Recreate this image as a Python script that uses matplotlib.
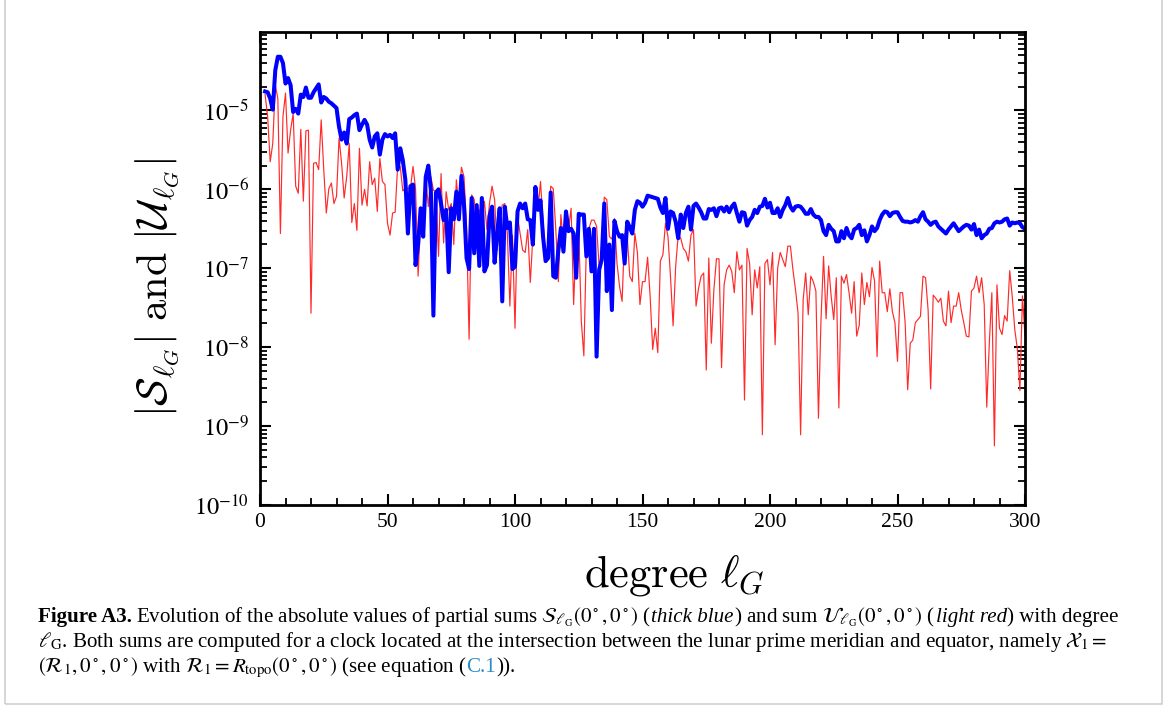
import numpy as np
import matplotlib
matplotlib.use('Agg')
import matplotlib.pyplot as plt
from matplotlib.ticker import LogLocator, NullFormatter, MultipleLocator
from matplotlib.transforms import IdentityTransform

plt.rcParams['font.family'] = ['Liberation Serif', 'DejaVu Serif']
plt.rcParams['mathtext.fontset'] = 'stix'

# values, stored as log10 of the absolute value
# degree l_G runs from 2 to 300, one value per degree
deg_first = 2

S_log = [
    -4.76, -4.77, -4.85, -4.99, -4.49, -4.32, -4.32, -4.40, -4.66, -4.59,
    -4.68, -5.02, -4.98, -5.04, -4.80, -4.83, -4.71, -4.84, -4.84, -4.77,
    -4.72, -4.67, -4.90, -4.83, -4.85, -4.89, -4.91, -4.94, -4.97, -5.21,
    -5.37, -5.28, -5.42, -5.11, -5.09, -5.06, -5.04, -5.25, -5.18, -5.12,
    -5.18, -5.37, -5.47, -5.33, -5.29, -5.56, -5.37, -5.30, -5.33, -5.31,
    -5.35, -5.29, -5.75, -5.48, -5.63, -5.88, -6.56, -5.96, -5.94,
    -6.96, -6.70, -6.24, -6.60, -5.84, -5.70, -6.01, -7.60, -6.04, -6.00,
    -6.18, -6.39, -6.26, -7.05, -6.24, -6.38, -6.03, -6.38, -5.83, -6.20,
    -6.87, -7.01, -6.11, -6.81, -6.20, -6.97, -6.11, -7.04, -6.96, -6.34,
    -6.22, -6.93, -6.56, -6.24, -7.42, -6.22, -6.49, -6.42, -7.01, -6.98,
    -6.28, -6.18, -6.24, -6.18, -6.38, -6.39, -6.70, -5.97, -6.26, -6.14,
    -6.60, -6.91, -6.87, -6.04, -7.10, -7.12, -6.77, -6.49, -6.79, -6.28,
    -6.53, -6.50, -6.56, -7.12, -6.31, -6.32, -6.32, -6.85, -6.50, -7.04,
    -6.50, -8.12, -7.02, -6.89, -6.18, -7.29, -6.70, -7.53, -6.40, -6.53,
    -6.60, -6.58, -6.94, -6.41, -6.48, -6.56, -6.26, -6.15, -6.17, -6.22,
    -6.17, -6.08, -6.09, -6.10, -6.11, -6.12, -6.23, -6.30, -6.11, -6.50,
    -6.28, -6.30, -6.41, -6.62, -6.32, -6.49, -6.30, -6.22, -6.51, -6.21,
    -6.18, -6.23, -6.29, -6.37, -6.37, -6.25, -6.26, -6.24, -6.34, -6.24,
    -6.23, -6.28, -6.22, -6.29, -6.22, -6.18, -6.30, -6.41, -6.29, -6.30,
    -6.46, -6.39, -6.35, -6.26, -6.30, -6.22, -6.21, -6.12, -6.23, -6.17,
    -6.30, -6.30, -6.24, -6.35, -6.26, -6.20, -6.11, -6.22, -6.27, -6.22,
    -6.21, -6.22, -6.26, -6.31, -6.31, -6.25, -6.32, -6.35, -6.35, -6.39,
    -6.53, -6.58, -6.45, -6.50, -6.53, -6.66, -6.66, -6.53, -6.62, -6.49,
    -6.58, -6.62, -6.51, -6.49, -6.45, -6.58, -6.52, -6.66, -6.58, -6.47,
    -6.53, -6.49, -6.39, -6.32, -6.28, -6.29, -6.34, -6.30, -6.29, -6.29,
    -6.35, -6.40, -6.41, -6.41, -6.42, -6.41, -6.39, -6.41, -6.34, -6.29,
    -6.38, -6.41, -6.45, -6.42, -6.41, -6.47, -6.50, -6.53, -6.56, -6.51,
    -6.47, -6.43, -6.48, -6.53, -6.50, -6.47, -6.45, -6.46, -6.51, -6.44,
    -6.58, -6.51, -6.62, -6.58, -6.56, -6.50, -6.49, -6.43, -6.41, -6.42,
    -6.41, -6.38, -6.37, -6.46, -6.42, -6.43, -6.42, -6.43, -6.48, -6.50,
]

U_log = [
    -4.80, -5.08, -5.65, -5.42, -4.68, -4.85, -6.56, -5.08, -4.78, -5.54,
    -5.25, -5.04, -5.96, -6.05, -5.24, -6.15, -5.26, -5.25, -7.57, -5.67,
    -5.66, -5.75, -5.12, -5.75, -6.30, -5.99, -5.92, -6.18, -6.09, -5.35,
    -5.67, -6.11, -5.84, -5.42, -6.42, -6.18, -6.52, -5.48, -6.20, -6.00,
    -6.21, -5.65, -5.94, -5.86, -6.28, -5.61, -5.90, -5.94, -6.43, -6.58,
    -6.30, -6.29, -5.69, -5.71, -6.02, -5.99, -5.99, -5.99, -5.71,
    -5.99, -7.10, -6.34, -6.51, -5.84, -6.22, -5.84, -6.01, -6.03, -6.85,
    -5.80, -6.68, -6.03, -6.26, -6.18, -6.70, -5.88, -6.22, -5.72, -5.84,
    -6.47, -7.90, -6.07, -6.13, -6.51, -6.26, -6.41, -6.15, -6.51, -6.18,
    -5.96, -6.13, -6.77, -6.39, -6.20, -6.18, -6.56, -7.48, -6.58, -7.76,
    -6.34, -6.56, -6.77, -6.80, -6.51, -7.18, -6.60, -6.20, -6.26, -5.90,
    -6.41, -6.89, -6.68, -5.96, -5.99, -6.51, -7.17, -6.32, -6.68, -6.28,
    -6.50, -6.24, -7.46, -6.60, -6.51, -7.67, -8.11, -6.68, -6.50, -6.39,
    -6.39, -6.47, -6.98, -6.91, -6.10, -6.13, -6.60, -6.63, -6.37, -6.94,
    -7.23, -7.42, -6.56, -6.59, -7.10, -7.17, -6.56, -6.80, -7.46, -7.17,
    -7.17, -6.86, -7.36, -8.03, -7.76, -8.07, -6.91, -6.83, -6.43, -6.60,
    -7.12, -7.73, -6.98, -6.58, -6.62, -6.75, -6.79, -6.91, -6.58, -6.51,
    -7.48, -7.25, -7.10, -7.06, -8.29, -6.87, -7.95, -7.27, -6.88, -6.88,
    -8.26, -7.21, -7.02, -6.96, -7.04, -7.31, -6.79, -7.02, -6.96, -8.67,
    -6.75, -6.94, -7.59, -7.02, -7.25, -6.98, -9.11, -6.94, -6.89, -7.21,
    -6.80, -7.97, -7.00, -6.80, -6.89, -6.98, -6.72, -6.72, -7.02, -7.27,
    -7.57, -9.11, -7.40, -7.06, -7.59, -7.10, -7.17, -7.29, -8.90, -7.65,
    -6.85, -7.64, -6.97, -7.36, -7.65, -7.12, -8.77, -7.10, -7.19, -7.08,
    -7.31, -7.57, -7.17, -7.86, -7.72, -7.06, -7.46, -7.18, -7.36, -6.99,
    -7.16, -8.12, -6.91, -7.31, -7.31, -7.55, -7.26, -7.55, -7.69, -8.18,
    -7.31, -7.31, -7.69, -8.54, -7.95, -7.91, -7.69, -7.65, -7.61, -7.10,
    -7.12, -7.53, -8.53, -7.34, -7.38, -7.43, -7.38, -7.67, -7.73, -7.29,
    -7.69, -7.48, -7.48, -7.31, -7.53, -7.69, -7.86, -7.87, -7.29, -7.25,
    -7.10, -7.31, -7.12, -7.46, -8.76, -7.95, -7.31, -9.25, -7.21, -7.76,
    -7.84, -7.60, -7.67, -7.03, -7.36, -7.78, -8.02, -8.55, -7.35, -7.86,
]

x_ticks = [0, 50, 100, 150, 200, 250, 300]
y_ticks = [1e-10, 1e-9, 1e-8, 1e-7, 1e-6, 1e-5]
y_ticklabels = [r'$10^{-10}$', r'$10^{-9}$', r'$10^{-8}$', r'$10^{-7}$',
                r'$10^{-6}$', r'$10^{-5}$']

S_abs = 10.0 ** np.array(S_log)
U_abs = 10.0 ** np.array(U_log)
deg_S = np.arange(deg_first, deg_first + len(S_abs))
deg_U = np.arange(deg_first, deg_first + len(U_abs))

W, H = 1167, 709
fig = plt.figure(figsize=(W / 100, H / 100), dpi=100)
ax = fig.add_axes([260 / W, 1 - 505 / H, 765 / W, 473.5 / H])

ax.plot(deg_U, U_abs, color='#ff2a2a', lw=0.85)
ax.plot(deg_S, S_abs, color='#0000ff', lw=2.9)

ax.set_yscale('log')
ax.set_xlim(0, 300)
ax.set_ylim(1e-10, 1e-4)
ax.set_xticks(x_ticks)
ax.xaxis.set_minor_locator(MultipleLocator(10))
ax.set_yticks(y_ticks, y_ticklabels)
ax.yaxis.set_minor_locator(LogLocator(base=10, subs=np.arange(2, 10)))
ax.yaxis.set_minor_formatter(NullFormatter())

ax.tick_params(which='both', direction='in', top=True, right=True)
ax.tick_params(axis='x', labelsize=15.5, pad=6)
ax.tick_params(axis='y', labelsize=17.5, pad=8)
ax.tick_params(which='major', length=8, width=1.5)
ax.tick_params(which='minor', length=5, width=1.3)
for sp in ax.spines.values():
    sp.set_linewidth(2)

ax.set_xlabel(r'$\mathrm{degree}\ \ell_G$', fontsize=32,
              math_fontfamily='cm', va='center')
ax.xaxis.set_label_coords(0.541, -0.148)
ax.set_ylabel(r'$|\mathcal{S}_{\ell_G}|\ \mathrm{and}\ |\mathcal{U}_{\ell_G}|$',
              fontsize=30.5, math_fontfamily='cm', va='center')
ax.yaxis.set_label_coords(-0.133, 0.459)

# light frame around the whole figure
fig.add_artist(plt.Rectangle((5 / W, 5 / H), 1157 / W, 1.2,
                             transform=fig.transFigure, fill=False,
                             ec='#cfcfcf', lw=1.2))

# caption, built piece by piece so fonts and colours can change inside a line
renderer = fig.canvas.get_renderer()
px = IdentityTransform()


def put_line(pieces, x0, y_base, size):
    x = x0
    made = []
    for txt, kw, gap in pieces:
        x += gap * size
        t = fig.text(x, H - y_base, txt, transform=px, fontsize=size,
                     va='baseline', ha='left', **kw)
        made.append(t)
        x = t.get_window_extent(renderer=renderer).x1
    return made, x


reg = {}
bold = {'fontweight': 'bold'}
ital = {'fontstyle': 'italic'}
link = {'color': '#2b8bc6'}

line1 = [
    ('Figure A3.', bold, 0),
    (r'Evolution of the absolute values of partial sums '
     r'$\mathcal{S}_{\ell_{\mathrm{G}}}(0^\circ,0^\circ)$ (', reg, 0.25),
    ('thick blue', ital, 0.02),
    (r') and sum $\mathcal{U}_{\ell_{\mathrm{G}}}(0^\circ,0^\circ)$ (', reg, 0.05),
    ('light red', ital, 0.02),
    (') with degree', reg, 0.05),
]
line2 = [
    (r'$\ell_{\mathrm{G}}$. Both sums are computed for a clock located at the '
     r'intersection between the lunar prime meridian and equator, namely '
     r'$\mathcal{X}_1 =$', reg, 0),
]
line3 = [
    (r'$(\mathcal{R}_1, 0^\circ, 0^\circ)$ with '
     r'$\mathcal{R}_1 = R_{\mathrm{topo}}(0^\circ,0^\circ)$ (see equation (',
     reg, 0),
    ('C.1', link, 0),
    (')).', reg, 0),
]

cap_size = 12.5
made, right = put_line(line1, 38, 622, cap_size)
for t in made:
    t.remove()
cap_size = cap_size * (1125 - 38) / (right - 38)
put_line(line1, 38, 622, cap_size)
put_line(line2, 38, 647, cap_size)
put_line(line3, 38, 672, cap_size)

fig.savefig('out.png', dpi=100)
